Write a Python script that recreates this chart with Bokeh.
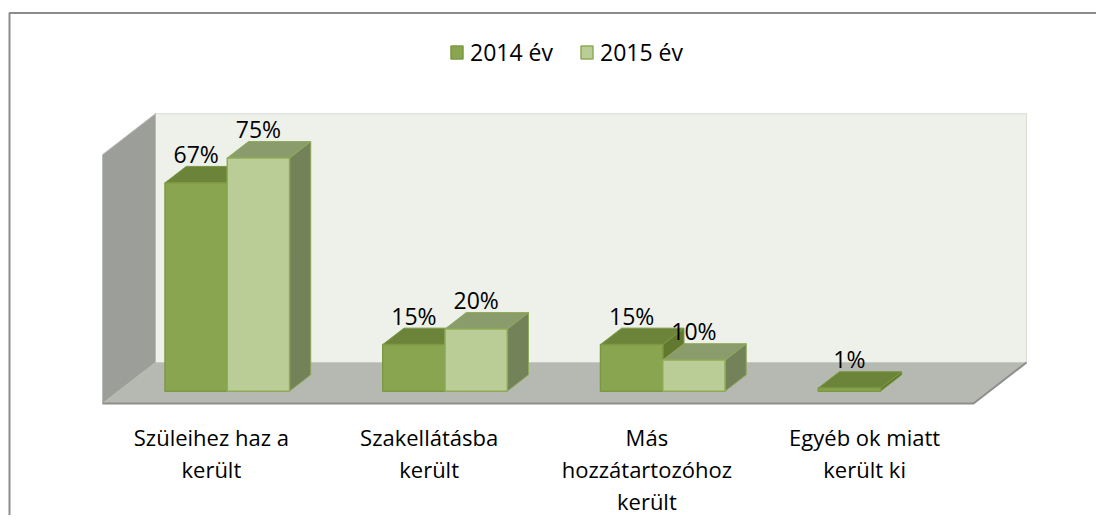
from bokeh.plotting import figure
from bokeh.models import Range1d, Legend, LegendItem
from bokeh.core.properties import value
from bokeh.embed import file_html
from bokeh.resources import INLINE

# ---------------- data ----------------
categories = ["Szüleihez haz a\nkerült", "Szakellátásba\nkerült",
              "Más\nhozzátartozóhoz\nkerült", "Egyéb ok miatt\nkerült ki"]
series_names = ["2014 év", "2015 év"]
values_2014 = [67, 15, 15, 1]
values_2015 = [75, 20, 10, None]
axis_max = 80

# ---------------- layout constants ----------------
W, H = 1096, 515
PAGE = 0
OX, OY = 102, 403          # pixel of the front-left corner of the floor
SX, SY = 217.75, 3.11      # px per category, px per percent
x0 = (PAGE - OX) / SX
x1 = (PAGE + W - OX) / SX
y0 = (OY - (PAGE + H)) / SY
y1 = (OY - PAGE) / SY
DX, DY = 53 / SX, 41 / SY  # full depth of the floor projected
BAR_W = 0.286
D0, D1 = 0.3, 0.7
N = len(categories)
FONT = value("Open Sans")
FS = "23px"

FRONT = ["#8AA54F", "#BBCD97"]
TOP = ["#6B843A", "#8A9C6C"]
SIDE = ["#61792F", "#74825A"]
EDGE = ["#7C9842", "#8FAA58"]

p = figure(width=W, height=H, x_range=Range1d(x0, x1), y_range=Range1d(y0, y1),
           output_backend="svg", toolbar_location=None, min_border=0,
           x_axis_location=None, y_axis_location=None)
p.grid.visible = False
p.outline_line_color = None
p.background_fill_color = "white"
p.border_fill_color = "white"

# chart-area border (top and left edges visible)
p.line(x=[x0 + 9 / SX, x0 + 9 / SX, x1 + 1], y=[y0 - 5, y1 - 12.5 / SY, y1 - 12.5 / SY],
       line_color="#8C8C8C", line_width=2)

# walls and floor
p.patch([DX, N + DX, N + DX, DX], [DY, DY, axis_max + DY, axis_max + DY],
        fill_color="#EEF0EA", line_color="#DADBD6", line_width=1)
p.patch([0, 0, DX, DX], [0, axis_max, axis_max + DY, DY],
        fill_color="#9C9E99", line_color="#B9BBB6", line_width=1)
p.patch([0, N, N + DX, DX], [0, 0, DY, DY], fill_color="#B6B8B2", line_color=None)
p.line([0, N, N + DX], [0, 0, DY], line_color="#8E8F8C", line_width=2)

legend_items = []
label_x, label_y, label_t = [], [], []
for s, vals in enumerate([values_2014, values_2015]):
    fl, fr, ft, fb = [], [], [], []
    txs, tys, sxs, sys_ = [], [], [], []
    for i, v in enumerate(vals):
        if v is None:
            continue
        l = i + 0.5 - BAR_W + s * BAR_W
        r = l + BAR_W
        fl.append(l + D0 * DX); fr.append(r + D0 * DX)
        fb.append(D0 * DY); ft.append(v + D0 * DY)
        txs.append([l + D0 * DX, r + D0 * DX, r + D1 * DX, l + D1 * DX])
        tys.append([v + D0 * DY, v + D0 * DY, v + D1 * DY, v + D1 * DY])
        sxs.append([r + D0 * DX, r + D1 * DX, r + D1 * DX, r + D0 * DX])
        sys_.append([D0 * DY, D1 * DY, v + D1 * DY, v + D0 * DY])
        label_x.append((l + r) / 2 + D0 * DX)
        label_y.append(v + D0 * DY + 29 / SY)
        label_t.append(f"{v}%")
    p.patches(sxs, sys_, fill_color=SIDE[s], line_color=EDGE[s], line_width=1)
    p.patches(txs, tys, fill_color=TOP[s], line_color=EDGE[s], line_width=1)
    fq = p.quad(left=fl, right=fr, bottom=fb, top=ft, fill_color=FRONT[s],
                line_color=EDGE[s], line_width=1.5)
    legend_items.append(LegendItem(label=series_names[s], renderers=[fq]))

p.text(x=label_x, y=label_y, text=label_t, text_font=FONT, text_font_size=FS,
       text_align="center", text_baseline="alphabetic", text_color="black")

cat_x = [i + 0.5 for i in range(N)]
cat_y = [(OY - 421) / SY] * N
p.text(x=cat_x, y=cat_y, text=categories, text_font=FONT, text_font_size="22px",
       text_align="center", text_baseline="top", text_line_height=1.08,
       text_color="black")

legend = Legend(items=legend_items, orientation="horizontal",
                location=(449, H - 68), padding=0, margin=0, spacing=26,
                glyph_width=15, glyph_height=16, label_standoff=6,
                label_text_font="Open Sans", label_text_font_size=FS,
                label_text_color="black", background_fill_alpha=0,
                border_line_color=None)
p.add_layout(legend, "center")

open("out.html", "w").write(file_html(p, INLINE))
